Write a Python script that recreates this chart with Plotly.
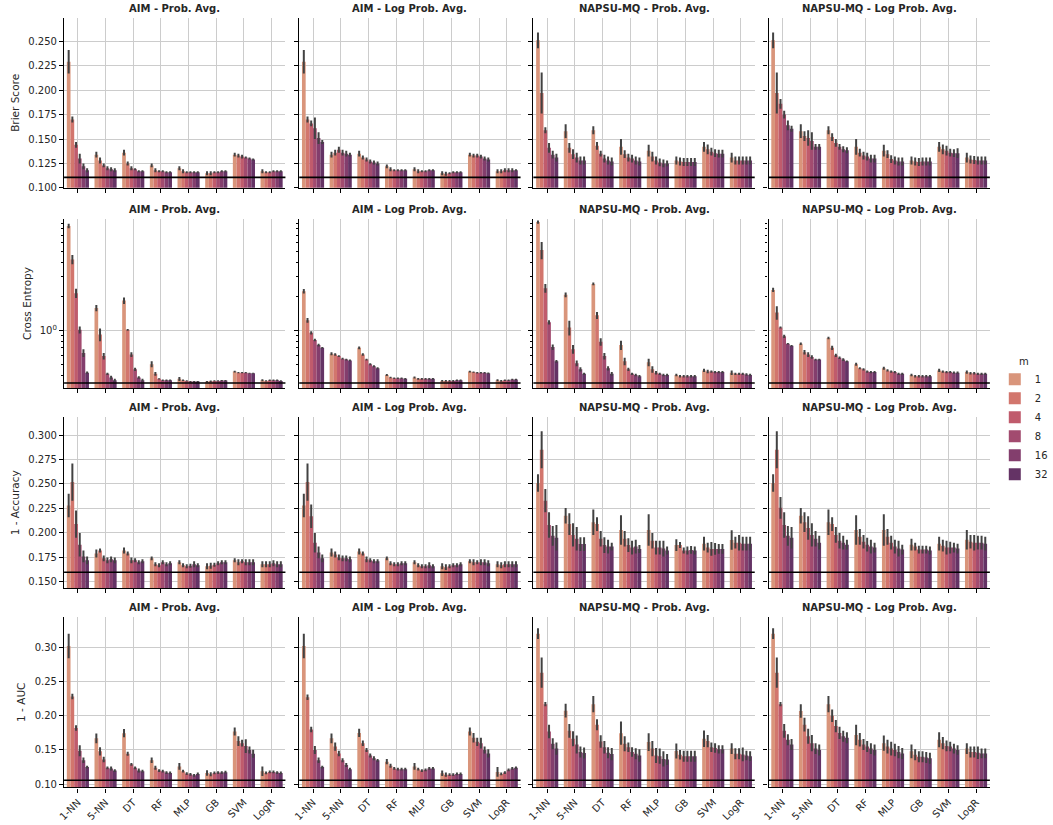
import plotly.graph_objects as go

# categories / hue levels
categories = ["1-NN", "5-NN", "DT", "RF", "MLP", "GB", "SVM", "LogR"]
m_levels = ["1", "2", "4", "8", "16", "32"]
colors = ["#d9957b", "#d2766d", "#c05b6c", "#a24b6f", "#833e6d", "#643365"]

col_titles = ["AIM - Prob. Avg.", "AIM - Log Prob. Avg.",
              "NAPSU-MQ - Prob. Avg.", "NAPSU-MQ - Log Prob. Avg."]
row_labels = ["Brier Score", "Cross Entropy", "1 - Accuracy", "1 - AUC"]
baseline = [0.1107, 0.34, 0.1598, 0.1058]

# ---- Brier score (rows = classifier, cols = m) ----
brier_aim_prob = [
    [0.229, 0.170, 0.144, 0.130, 0.122, 0.118],
    [0.134, 0.128, 0.123, 0.120, 0.119, 0.118],
    [0.136, 0.125, 0.120, 0.119, 0.117, 0.117],
    [0.123, 0.118, 0.117, 0.117, 0.116, 0.116],
    [0.120, 0.117, 0.116, 0.116, 0.116, 0.116],
    [0.115, 0.115, 0.116, 0.116, 0.117, 0.117],
    [0.134, 0.133, 0.132, 0.131, 0.130, 0.129],
    [0.117, 0.116, 0.116, 0.117, 0.117, 0.117],
]
brier_aim_prob_err = [
    [0.012, 0.003, 0.003, 0.005, 0.003, 0.002],
    [0.003, 0.003, 0.002, 0.002, 0.002, 0.002],
    [0.003, 0.002, 0.002, 0.001, 0.001, 0.001],
    [0.002, 0.002, 0.001, 0.001, 0.001, 0.001],
    [0.002, 0.002, 0.001, 0.001, 0.001, 0.001],
    [0.002, 0.002, 0.001, 0.001, 0.001, 0.001],
    [0.002, 0.002, 0.002, 0.001, 0.001, 0.001],
    [0.002, 0.001, 0.001, 0.001, 0.001, 0.001],
]
brier_aim_logprob = [
    [0.229, 0.170, 0.166, 0.161, 0.151, 0.147],
    [0.134, 0.136, 0.139, 0.136, 0.135, 0.134],
    [0.135, 0.131, 0.129, 0.127, 0.126, 0.125],
    [0.122, 0.119, 0.118, 0.118, 0.118, 0.118],
    [0.119, 0.117, 0.117, 0.117, 0.118, 0.118],
    [0.115, 0.1145, 0.115, 0.116, 0.116, 0.116],
    [0.134, 0.133, 0.133, 0.132, 0.130, 0.129],
    [0.117, 0.117, 0.118, 0.118, 0.118, 0.118],
]
brier_aim_logprob_err = [
    [0.012, 0.003, 0.003, 0.011, 0.006, 0.002],
    [0.003, 0.003, 0.003, 0.003, 0.003, 0.002],
    [0.003, 0.002, 0.002, 0.002, 0.002, 0.002],
    [0.002, 0.002, 0.001, 0.001, 0.001, 0.001],
    [0.002, 0.002, 0.001, 0.001, 0.001, 0.001],
    [0.002, 0.002, 0.001, 0.001, 0.001, 0.001],
    [0.002, 0.002, 0.002, 0.002, 0.002, 0.002],
    [0.002, 0.002, 0.002, 0.002, 0.002, 0.001],
]
brier_napsu_prob = [
    [0.251, 0.197, 0.159, 0.141, 0.134, 0.131],
    [0.158, 0.141, 0.1345, 0.131, 0.128, 0.128],
    [0.159, 0.143, 0.135, 0.130, 0.128, 0.127],
    [0.142, 0.1345, 0.131, 0.130, 0.128, 0.127],
    [0.138, 0.132, 0.128, 0.126, 0.125, 0.125],
    [0.128, 0.127, 0.1265, 0.1265, 0.1265, 0.1265],
    [0.142, 0.1395, 0.137, 0.1355, 0.135, 0.135],
    [0.131, 0.128, 0.128, 0.128, 0.128, 0.128],
]
brier_napsu_prob_err = [
    [0.008, 0.021, 0.003, 0.005, 0.004, 0.004],
    [0.007, 0.005, 0.005, 0.005, 0.004, 0.004],
    [0.004, 0.004, 0.003, 0.004, 0.004, 0.004],
    [0.008, 0.004, 0.004, 0.004, 0.004, 0.004],
    [0.006, 0.005, 0.004, 0.004, 0.004, 0.003],
    [0.004, 0.004, 0.004, 0.004, 0.004, 0.004],
    [0.005, 0.005, 0.004, 0.004, 0.004, 0.004],
    [0.005, 0.004, 0.004, 0.004, 0.004, 0.004],
]
brier_napsu_logprob = [
    [0.251, 0.197, 0.186, 0.175, 0.164, 0.1605],
    [0.158, 0.153, 0.151, 0.148, 0.142, 0.142],
    [0.159, 0.152, 0.146, 0.142, 0.1395, 0.1385],
    [0.142, 0.136, 0.133, 0.132, 0.130, 0.130],
    [0.138, 0.1345, 0.1295, 0.128, 0.127, 0.127],
    [0.128, 0.127, 0.1265, 0.127, 0.127, 0.127],
    [0.142, 0.1395, 0.138, 0.136, 0.1355, 0.1355],
    [0.131, 0.129, 0.1285, 0.128, 0.128, 0.128],
]
brier_napsu_logprob_err = [
    [0.008, 0.021, 0.005, 0.004, 0.005, 0.003],
    [0.007, 0.005, 0.008, 0.009, 0.003, 0.003],
    [0.004, 0.004, 0.004, 0.003, 0.003, 0.003],
    [0.008, 0.004, 0.004, 0.004, 0.004, 0.004],
    [0.006, 0.004, 0.004, 0.004, 0.004, 0.004],
    [0.004, 0.004, 0.004, 0.004, 0.004, 0.004],
    [0.005, 0.005, 0.005, 0.004, 0.004, 0.005],
    [0.005, 0.004, 0.004, 0.004, 0.004, 0.004],
]

# ---- Cross entropy ----
ce_aim_prob = [
    [8.5, 4.28, 2.14, 1.01, 0.63, 0.42],
    [1.58, 0.92, 0.59, 0.41, 0.38, 0.36],
    [1.84, 1.01, 0.61, 0.45, 0.38, 0.36],
    [0.50, 0.41, 0.37, 0.36, 0.36, 0.36],
    [0.37, 0.36, 0.355, 0.35, 0.35, 0.35],
    [0.35, 0.352, 0.355, 0.355, 0.357, 0.357],
    [0.43, 0.42, 0.42, 0.42, 0.415, 0.415],
    [0.36, 0.355, 0.36, 0.36, 0.36, 0.355],
]
ce_aim_prob_err = [
    [0.4, 0.4, 0.2, 0.07, 0.05, 0.01],
    [0.1, 0.12, 0.04, 0.01, 0.015, 0.01],
    [0.12, 0.02, 0.03, 0.015, 0.01, 0.01],
    [0.03, 0.015, 0.005, 0.005, 0.005, 0.005],
    [0.015, 0.005, 0.005, 0.005, 0.005, 0.005],
    [0.005, 0.005, 0.005, 0.005, 0.005, 0.005],
    [0.008, 0.005, 0.005, 0.005, 0.005, 0.005],
    [0.008, 0.005, 0.005, 0.005, 0.005, 0.005],
]
ce_aim_logprob = [
    [2.23, 1.23, 0.95, 0.82, 0.74, 0.70],
    [0.62, 0.61, 0.59, 0.56, 0.55, 0.54],
    [0.70, 0.61, 0.55, 0.50, 0.48, 0.46],
    [0.40, 0.38, 0.375, 0.375, 0.375, 0.37],
    [0.38, 0.37, 0.37, 0.37, 0.37, 0.37],
    [0.355, 0.355, 0.355, 0.355, 0.36, 0.36],
    [0.43, 0.425, 0.42, 0.42, 0.42, 0.415],
    [0.36, 0.355, 0.36, 0.36, 0.365, 0.365],
]
ce_aim_logprob_err = [
    [0.1, 0.06, 0.03, 0.02, 0.02, 0.01],
    [0.02, 0.015, 0.01, 0.01, 0.01, 0.01],
    [0.02, 0.015, 0.01, 0.01, 0.01, 0.01],
    [0.008, 0.006, 0.006, 0.006, 0.006, 0.006],
    [0.008, 0.006, 0.006, 0.006, 0.006, 0.006],
    [0.006, 0.006, 0.006, 0.006, 0.006, 0.006],
    [0.008, 0.006, 0.006, 0.006, 0.006, 0.006],
    [0.008, 0.006, 0.006, 0.006, 0.006, 0.006],
]
ce_napsu_prob = [
    [9.2, 5.2, 2.37, 1.18, 0.71, 0.53],
    [2.07, 1.06, 0.68, 0.51, 0.45, 0.41],
    [2.59, 1.36, 0.79, 0.59, 0.46, 0.41],
    [0.74, 0.53, 0.45, 0.41, 0.40, 0.39],
    [0.52, 0.45, 0.42, 0.41, 0.40, 0.40],
    [0.40, 0.39, 0.39, 0.39, 0.39, 0.39],
    [0.44, 0.43, 0.43, 0.425, 0.425, 0.425],
    [0.42, 0.41, 0.41, 0.41, 0.405, 0.40],
]
ce_napsu_prob_err = [
    [0.3, 0.9, 0.21, 0.05, 0.04, 0.015],
    [0.1, 0.16, 0.06, 0.03, 0.02, 0.01],
    [0.07, 0.1, 0.06, 0.04, 0.02, 0.015],
    [0.07, 0.04, 0.015, 0.01, 0.01, 0.01],
    [0.04, 0.03, 0.015, 0.01, 0.01, 0.01],
    [0.01, 0.01, 0.01, 0.01, 0.01, 0.01],
    [0.015, 0.015, 0.01, 0.01, 0.01, 0.01],
    [0.02, 0.01, 0.01, 0.01, 0.01, 0.01],
]
ce_napsu_logprob = [
    [2.29, 1.44, 1.06, 0.885, 0.76, 0.73],
    [0.76, 0.64, 0.61, 0.58, 0.55, 0.55],
    [0.855, 0.70, 0.60, 0.57, 0.55, 0.53],
    [0.50, 0.46, 0.45, 0.43, 0.425, 0.425],
    [0.46, 0.44, 0.43, 0.425, 0.41, 0.41],
    [0.40, 0.39, 0.39, 0.39, 0.39, 0.39],
    [0.44, 0.43, 0.425, 0.425, 0.42, 0.42],
    [0.425, 0.415, 0.415, 0.41, 0.41, 0.41],
]
ce_napsu_logprob_err = [
    [0.1, 0.2, 0.02, 0.03, 0.01, 0.01],
    [0.02, 0.03, 0.03, 0.02, 0.01, 0.01],
    [0.02, 0.03, 0.02, 0.015, 0.015, 0.01],
    [0.015, 0.01, 0.01, 0.01, 0.01, 0.01],
    [0.015, 0.01, 0.01, 0.01, 0.01, 0.01],
    [0.01, 0.01, 0.01, 0.01, 0.01, 0.01],
    [0.015, 0.01, 0.01, 0.01, 0.01, 0.01],
    [0.015, 0.01, 0.01, 0.01, 0.01, 0.01],
]

# ---- 1 - Accuracy ----
acc_aim_prob = [
    [0.228, 0.252, 0.209, 0.188, 0.176, 0.172],
    [0.179, 0.182, 0.174, 0.172, 0.173, 0.172],
    [0.182, 0.179, 0.172, 0.172, 0.170, 0.171],
    [0.174, 0.168, 0.167, 0.170, 0.168, 0.169],
    [0.170, 0.167, 0.166, 0.1665, 0.168, 0.167],
    [0.166, 0.1665, 0.1675, 0.169, 0.170, 0.170],
    [0.172, 0.170, 0.171, 0.170, 0.170, 0.170],
    [0.168, 0.168, 0.168, 0.169, 0.168, 0.168],
]
acc_aim_prob_err = [
    [0.012, 0.019, 0.014, 0.012, 0.006, 0.004],
    [0.004, 0.002, 0.003, 0.003, 0.003, 0.003],
    [0.003, 0.002, 0.003, 0.002, 0.002, 0.002],
    [0.002, 0.002, 0.002, 0.002, 0.002, 0.002],
    [0.002, 0.002, 0.002, 0.002, 0.003, 0.002],
    [0.003, 0.003, 0.002, 0.002, 0.002, 0.002],
    [0.002, 0.003, 0.002, 0.003, 0.003, 0.003],
    [0.003, 0.003, 0.003, 0.003, 0.003, 0.003],
]
acc_aim_logprob = [
    [0.228, 0.252, 0.217, 0.190, 0.180, 0.174],
    [0.180, 0.178, 0.175, 0.174, 0.174, 0.173],
    [0.181, 0.179, 0.173, 0.172, 0.171, 0.171],
    [0.174, 0.169, 0.168, 0.168, 0.169, 0.169],
    [0.170, 0.167, 0.166, 0.166, 0.167, 0.166],
    [0.166, 0.165, 0.166, 0.167, 0.167, 0.168],
    [0.171, 0.170, 0.170, 0.170, 0.170, 0.169],
    [0.168, 0.167, 0.168, 0.168, 0.168, 0.168],
]
acc_aim_logprob_err = [
    [0.012, 0.019, 0.012, 0.010, 0.006, 0.004],
    [0.004, 0.003, 0.003, 0.003, 0.003, 0.003],
    [0.003, 0.002, 0.003, 0.002, 0.002, 0.002],
    [0.002, 0.002, 0.002, 0.002, 0.002, 0.002],
    [0.002, 0.002, 0.002, 0.002, 0.003, 0.002],
    [0.003, 0.003, 0.002, 0.002, 0.002, 0.002],
    [0.002, 0.003, 0.002, 0.003, 0.003, 0.003],
    [0.003, 0.003, 0.003, 0.003, 0.003, 0.003],
]
acc_napsu_prob = [
    [0.251, 0.285, 0.233, 0.208, 0.197, 0.195],
    [0.2175, 0.209, 0.198, 0.194, 0.1886, 0.1886],
    [0.211, 0.209, 0.194, 0.1876, 0.186, 0.186],
    [0.203, 0.194, 0.1876, 0.185, 0.186, 0.1836],
    [0.203, 0.192, 0.185, 0.185, 0.184, 0.182],
    [0.1876, 0.1876, 0.182, 0.182, 0.1826, 0.182],
    [0.189, 0.185, 0.1836, 0.1836, 0.1836, 0.1836],
    [0.1927, 0.190, 0.190, 0.189, 0.189, 0.189],
]
acc_napsu_prob_err = [
    [0.009, 0.019, 0.012, 0.013, 0.010, 0.013],
    [0.008, 0.011, 0.012, 0.012, 0.007, 0.007],
    [0.013, 0.007, 0.008, 0.008, 0.007, 0.004],
    [0.015, 0.008, 0.007, 0.007, 0.007, 0.004],
    [0.016, 0.008, 0.007, 0.007, 0.008, 0.004],
    [0.006, 0.003, 0.003, 0.004, 0.004, 0.004],
    [0.007, 0.005, 0.007, 0.006, 0.005, 0.005],
    [0.010, 0.006, 0.008, 0.007, 0.007, 0.007],
]
acc_napsu_logprob = [
    [0.251, 0.285, 0.2256, 0.208, 0.197, 0.195],
    [0.2175, 0.211, 0.205, 0.198, 0.194, 0.190],
    [0.211, 0.209, 0.198, 0.192, 0.190, 0.188],
    [0.203, 0.196, 0.191, 0.188, 0.186, 0.185],
    [0.203, 0.196, 0.190, 0.186, 0.184, 0.183],
    [0.188, 0.186, 0.183, 0.183, 0.183, 0.182],
    [0.189, 0.187, 0.185, 0.185, 0.185, 0.184],
    [0.193, 0.191, 0.190, 0.190, 0.190, 0.189],
]
acc_napsu_logprob_err = [
    [0.009, 0.019, 0.011, 0.013, 0.010, 0.011],
    [0.008, 0.010, 0.012, 0.012, 0.008, 0.007],
    [0.013, 0.007, 0.008, 0.008, 0.007, 0.005],
    [0.015, 0.008, 0.007, 0.007, 0.007, 0.005],
    [0.016, 0.008, 0.007, 0.007, 0.008, 0.005],
    [0.006, 0.004, 0.004, 0.004, 0.004, 0.004],
    [0.007, 0.006, 0.007, 0.006, 0.005, 0.005],
    [0.010, 0.007, 0.008, 0.007, 0.007, 0.007],
]

# ---- 1 - AUC ----
auc_aim_prob = [
    [0.302, 0.228, 0.182, 0.149, 0.135, 0.125],
    [0.167, 0.148, 0.136, 0.124, 0.123, 0.120],
    [0.1745, 0.1445, 0.129, 0.124, 0.120, 0.119],
    [0.135, 0.124, 0.120, 0.119, 0.117, 0.1165],
    [0.126, 0.119, 0.1155, 0.1145, 0.113, 0.115],
    [0.1165, 0.1145, 0.1165, 0.117, 0.117, 0.1175],
    [0.177, 0.163, 0.160, 0.1557, 0.150, 0.1445],
    [0.119, 0.1165, 0.118, 0.118, 0.117, 0.1165],
]
auc_aim_prob_err = [
    [0.018, 0.004, 0.004, 0.008, 0.004, 0.002],
    [0.007, 0.006, 0.004, 0.002, 0.003, 0.002],
    [0.006, 0.003, 0.002, 0.002, 0.003, 0.002],
    [0.004, 0.003, 0.002, 0.002, 0.002, 0.002],
    [0.005, 0.002, 0.002, 0.002, 0.002, 0.002],
    [0.004, 0.003, 0.002, 0.002, 0.002, 0.002],
    [0.006, 0.007, 0.005, 0.010, 0.005, 0.006],
    [0.007, 0.002, 0.002, 0.002, 0.002, 0.002],
]
auc_aim_logprob = [
    [0.302, 0.227, 0.180, 0.150, 0.135, 0.125],
    [0.167, 0.155, 0.145, 0.135, 0.128, 0.122],
    [0.175, 0.160, 0.150, 0.142, 0.138, 0.135],
    [0.133, 0.127, 0.123, 0.122, 0.122, 0.122],
    [0.126, 0.122, 0.120, 0.121, 0.123, 0.123],
    [0.116, 0.114, 0.114, 0.114, 0.115, 0.115],
    [0.177, 0.168, 0.162, 0.160, 0.150, 0.145],
    [0.118, 0.115, 0.117, 0.121, 0.123, 0.124],
]
auc_aim_logprob_err = [
    [0.018, 0.004, 0.004, 0.006, 0.004, 0.002],
    [0.007, 0.006, 0.004, 0.003, 0.003, 0.002],
    [0.006, 0.004, 0.003, 0.003, 0.003, 0.002],
    [0.004, 0.003, 0.002, 0.002, 0.002, 0.002],
    [0.005, 0.002, 0.002, 0.002, 0.002, 0.002],
    [0.004, 0.003, 0.002, 0.002, 0.002, 0.002],
    [0.006, 0.007, 0.006, 0.008, 0.005, 0.006],
    [0.007, 0.002, 0.002, 0.002, 0.002, 0.002],
]
auc_napsu_prob = [
    [0.320, 0.263, 0.217, 0.177, 0.159, 0.152],
    [0.2074, 0.178, 0.1663, 0.158, 0.147, 0.1455],
    [0.217, 0.187, 0.1624, 0.154, 0.146, 0.144],
    [0.1745, 0.159, 0.154, 0.147, 0.1445, 0.142],
    [0.1615, 0.152, 0.142, 0.141, 0.137, 0.136],
    [0.1484, 0.143, 0.141, 0.141, 0.141, 0.141],
    [0.1663, 0.163, 0.154, 0.1528, 0.151, 0.151],
    [0.152, 0.1445, 0.1445, 0.1435, 0.142, 0.141],
]
auc_napsu_prob_err = [
    [0.008, 0.022, 0.003, 0.010, 0.008, 0.009],
    [0.010, 0.010, 0.011, 0.013, 0.008, 0.008],
    [0.012, 0.008, 0.009, 0.009, 0.008, 0.009],
    [0.017, 0.011, 0.007, 0.007, 0.008, 0.009],
    [0.013, 0.011, 0.011, 0.011, 0.011, 0.008],
    [0.011, 0.007, 0.008, 0.008, 0.008, 0.008],
    [0.012, 0.009, 0.007, 0.007, 0.006, 0.006],
    [0.008, 0.008, 0.008, 0.010, 0.007, 0.007],
]
auc_napsu_logprob = [
    [0.320, 0.263, 0.217, 0.178, 0.165, 0.158],
    [0.207, 0.187, 0.170, 0.160, 0.152, 0.150],
    [0.217, 0.200, 0.185, 0.175, 0.170, 0.168],
    [0.172, 0.165, 0.158, 0.155, 0.152, 0.150],
    [0.160, 0.155, 0.152, 0.150, 0.147, 0.145],
    [0.148, 0.143, 0.140, 0.140, 0.139, 0.138],
    [0.165, 0.160, 0.156, 0.155, 0.152, 0.150],
    [0.152, 0.147, 0.147, 0.146, 0.145, 0.145],
]
auc_napsu_logprob_err = [
    [0.008, 0.022, 0.003, 0.010, 0.008, 0.008],
    [0.010, 0.010, 0.011, 0.012, 0.008, 0.008],
    [0.012, 0.009, 0.009, 0.009, 0.008, 0.008],
    [0.015, 0.010, 0.008, 0.008, 0.008, 0.008],
    [0.011, 0.010, 0.010, 0.009, 0.009, 0.008],
    [0.010, 0.008, 0.008, 0.008, 0.008, 0.008],
    [0.011, 0.009, 0.008, 0.007, 0.007, 0.007],
    [0.008, 0.008, 0.008, 0.009, 0.007, 0.007],
]

panels = [
    [(brier_aim_prob, brier_aim_prob_err), (brier_aim_logprob, brier_aim_logprob_err),
     (brier_napsu_prob, brier_napsu_prob_err), (brier_napsu_logprob, brier_napsu_logprob_err)],
    [(ce_aim_prob, ce_aim_prob_err), (ce_aim_logprob, ce_aim_logprob_err),
     (ce_napsu_prob, ce_napsu_prob_err), (ce_napsu_logprob, ce_napsu_logprob_err)],
    [(acc_aim_prob, acc_aim_prob_err), (acc_aim_logprob, acc_aim_logprob_err),
     (acc_napsu_prob, acc_napsu_prob_err), (acc_napsu_logprob, acc_napsu_logprob_err)],
    [(auc_aim_prob, auc_aim_prob_err), (auc_aim_logprob, auc_aim_logprob_err),
     (auc_napsu_prob, auc_napsu_prob_err), (auc_napsu_logprob, auc_napsu_logprob_err)],
]

# layout in pixels
W, H = 1053, 825
col_px = [(58, 283), (297, 522), (535, 760), (774, 999)]
row_px = [(18, 189), (220, 390.7), (420, 591.7), (620.7, 792.3)]
y_ranges = [[0.1, 0.274], [-0.516, 0.994], [0.1436, 0.318], [0.0952, 0.3444]]

TXT = "#262626"
GRID = "#cccccc"
FONT = "DejaVu Sans"

fig = go.Figure()
layout = {}
annotations = []
shapes = []

for r in range(4):
    for c in range(4):
        k = r * 4 + c + 1
        sfx = "" if k == 1 else str(k)
        vals, errs = panels[r][c]
        for j, m in enumerate(m_levels):
            fig.add_trace(go.Bar(
                x=categories,
                y=[row[j] for row in vals],
                error_y=dict(type="data", array=[row[j] for row in errs],
                             color="#424242", thickness=2, width=0),
                marker=dict(color=colors[j], line=dict(width=0)),
                name=m, legendgroup=m, showlegend=(k == 1),
                offsetgroup=str(j), hoverinfo="skip",
                xaxis="x" + sfx, yaxis="y" + sfx,
            ))

        x0, x1 = col_px[c]
        y0, y1 = row_px[r]
        layout["xaxis" + sfx] = dict(
            domain=[x0 / W, x1 / W], anchor="y" + sfx,
            type="category", range=[-0.5, 7.5],
            showline=True, linecolor="black", linewidth=1.25,
            ticks="outside", ticklen=4, tickcolor="black", tickwidth=1,
            showgrid=True, gridcolor=GRID, gridwidth=1, zeroline=False,
            showticklabels=(r == 3), tickangle=-45,
            tickfont=dict(size=10, color=TXT),
        )
        ycfg = dict(
            domain=[1 - y1 / H, 1 - y0 / H], anchor="x" + sfx,
            range=y_ranges[r],
            showline=True, linecolor="black", linewidth=1.25,
            ticks="outside", ticklen=4, tickcolor="black", tickwidth=1,
            showgrid=True, gridcolor=GRID, gridwidth=1, zeroline=False,
            showticklabels=(c == 0),
            tickfont=dict(size=10, color=TXT),
        )
        if r == 1:
            ycfg.update(type="log", tickmode="array", tickvals=[1],
                        ticktext=["10<sup>0</sup>"],
                        minor=dict(tickmode="array",
                                   tickvals=[0.4, 0.5, 0.6, 0.7, 0.8, 0.9,
                                             2, 3, 4, 5, 6, 7, 8, 9],
                                   ticks="outside", ticklen=2,
                                   tickcolor="black", showgrid=False))
        elif r == 0:
            ycfg.update(tick0=0.1, dtick=0.025, tickformat=".3f")
        elif r == 2:
            ycfg.update(tick0=0.15, dtick=0.025, tickformat=".3f")
        else:
            ycfg.update(tick0=0.1, dtick=0.05, tickformat=".2f")
        if c == 0:
            ycfg["title"] = dict(text=row_labels[r], standoff=6,
                                 font=dict(size=10.5, color=TXT))
        layout["yaxis" + sfx] = ycfg

        annotations.append(dict(
            text="<b>" + col_titles[c] + "</b>", showarrow=False,
            xref="paper", yref="paper",
            x=(x0 + x1) / 2 / W, y=1 - y0 / H,
            xanchor="center", yanchor="bottom", yshift=2,
            font=dict(size=10, color=TXT),
        ))
        shapes.append(dict(
            type="line", xref="x" + sfx + " domain", yref="y" + sfx,
            x0=0, x1=1, y0=baseline[r], y1=baseline[r],
            line=dict(color="black", width=1.6), layer="above",
        ))

fig.update_layout(
    **layout,
    annotations=annotations,
    shapes=shapes,
    barmode="group", bargap=0.2, bargroupgap=0,
    width=W, height=H,
    margin=dict(l=0, r=0, t=0, b=0),
    paper_bgcolor="white", plot_bgcolor="white",
    font=dict(family=FONT, size=10, color=TXT),
    hovermode=False,
    legend=dict(
        title=dict(text="m", side="top center", font=dict(size=10, color=TXT)),
        x=1004 / W, y=1 - 354 / H, xanchor="left", yanchor="top",
        font=dict(size=10, color=TXT), bgcolor="rgba(0,0,0,0)",
        tracegroupgap=0, itemwidth=30,
    ),
)

# drop the default page margin so the figure sits at the window's corner
fig.write_html("out.html",
               config={"displayModeBar": False},
               post_script="document.body.style.margin='0';"
                           "document.body.style.overflow='hidden';")
